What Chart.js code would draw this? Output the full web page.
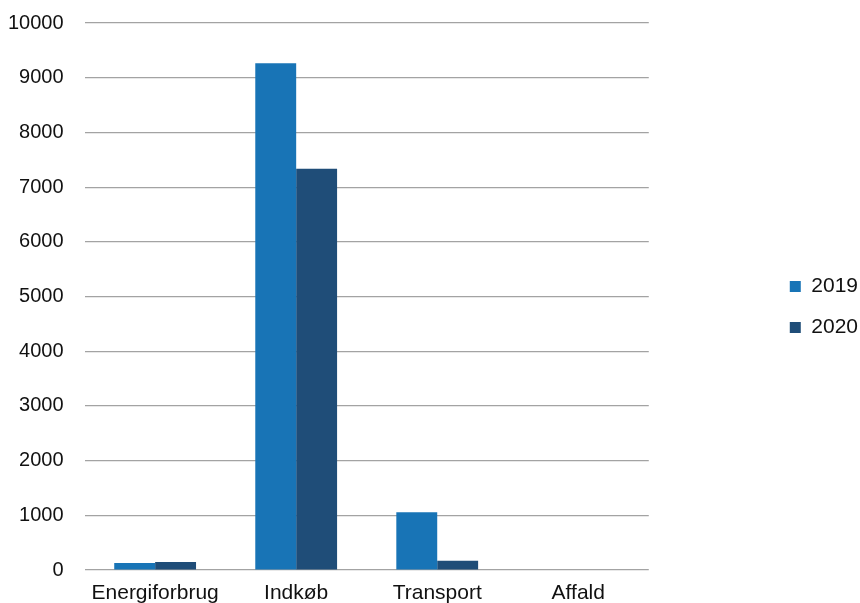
<!DOCTYPE html>
<html>
<head>
<meta charset="utf-8">
<script src="https://cdn.jsdelivr.net/npm/chart.js@4/dist/chart.umd.min.js"></script>
<style>
html,body{margin:0;padding:0;background:#fff;}
#wrap{width:860px;height:603px;position:relative;}
</style>
</head>
<body>
<div id="wrap"><canvas id="c"></canvas></div>
<script>
const categories = ["Energiforbrug", "Indkøb", "Transport", "Affald"];
const values2019 = [130, 9265, 1055, 0];
const values2020 = [148, 7335, 170, 0];
const seriesNames = ["2019", "2020"];
const yTicks = [0, 1000, 2000, 3000, 4000, 5000, 6000, 7000, 8000, 9000, 10000];

Chart.defaults.font.family = "'Liberation Sans', Arial, Helvetica, sans-serif";
Chart.defaults.color = "#111";

const legendShift = {
  id: "legendShift",
  afterLayout(chart) {
    const l = chart.legend;
    if (l) { l.top -= 12; l.bottom -= 12; }
  }
};

new Chart(document.getElementById("c"), {
  type: "bar",
  data: {
    labels: categories,
    datasets: [
      { label: seriesNames[0], data: values2019, backgroundColor: "#1874b6", barPercentage: 1, categoryPercentage: 0.58 },
      { label: seriesNames[1], data: values2020, backgroundColor: "#1f4d78", barPercentage: 1, categoryPercentage: 0.58 }
    ]
  },
  plugins: [legendShift],
  options: {
    responsive: true,
    maintainAspectRatio: false,
    animation: false,
    layout: { padding: { left: -13, top: 23, right: -8, bottom: -12 } },
    plugins: {
      tooltip: { enabled: false },
      legend: {
        position: "right",
        labels: { boxWidth: 11, boxHeight: 11, padding: 20, font: { size: 21 }, color: "#111" }
      }
    },
    scales: {
      x: {
        grid: { display: false },
        border: { display: false },
        ticks: { font: { size: 21 }, color: "#111", padding: 3 }
      },
      y: {
        min: 0, max: 10000,
        afterBuildTicks: (s) => { s.ticks = yTicks.map(v => ({ value: v })); },
        afterFit: (s) => { s.paddingTop = 0; },
        grid: { color: "#a3a3a3", lineWidth: 1.2, drawTicks: false },
        border: { display: false },
        ticks: { font: { size: 20 }, color: "#111", padding: 21, callback: (v) => String(v) }
      },
      spacer: {
        position: "right",
        display: true,
        grid: { display: false, drawTicks: false },
        border: { display: false },
        ticks: { display: false },
        afterFit: (s) => { s.width = 121; }
      }
    }
  }
});
</script>
</body>
</html>
